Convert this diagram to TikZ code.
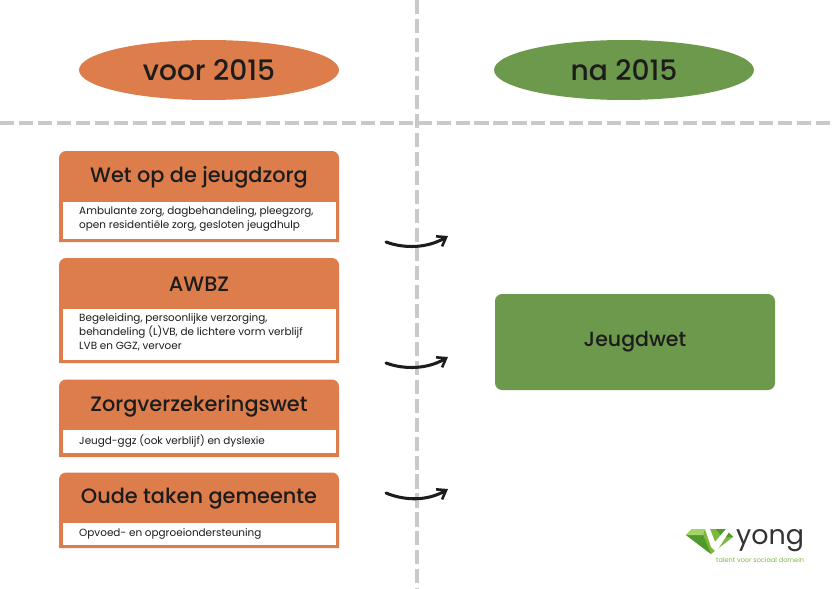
\documentclass[tikz,border=0pt]{standalone}
\usepackage{fontspec}
\setmainfont{Poppins}[UprightFont=* Medium]
\newfontfamily\dunfont{Poppins}
\usetikzlibrary{arrows.meta, shapes.geometric}
\definecolor{oranje}{HTML}{DC7D4B}
\definecolor{groen}{HTML}{6C994B}
\definecolor{streep}{HTML}{C9C9C9}
\definecolor{inkt}{HTML}{1C1C1C}
\definecolor{logogroen}{HTML}{7DB83C}
\definecolor{logodonker}{HTML}{4F9A2A}
\definecolor{logolicht}{HTML}{A5D36A}
\definecolor{logotekst}{HTML}{333333}
\tikzset{
  deellijn/.style={streep, line width=3.4pt, dash pattern=on 12pt off 4.2pt},
  kop/.style={text=inkt, font=\fontsize{17.8}{20}\selectfont},
  ovaal/.style={ellipse, minimum width=260*0.03cm, minimum height=60*0.03cm, inner sep=0pt, text=inkt, font=\fontsize{24}{28}\selectfont},
  uitleg/.style={anchor=north west, inner sep=0pt, align=left, text=inkt, font=\dunfont\fontsize{8.9}{12.1}\selectfont},
  pijl/.style={inkt, line width=2.6pt, line cap=round, -{Straight Barb[length=7pt,width=10pt,line width=2.2pt]}}
}
\begin{document}
\begin{tikzpicture}[x=0.03cm, y=-0.03cm]
\useasboundingbox (0,0) rectangle (834,589);
% dashed cross
\coordinate (boven) at (417,0);
\coordinate (onder) at (417,589);
\coordinate (links) at (0,123);
\coordinate (rechts) at (834,123);
\draw [deellijn] (boven) -- (onder);
\draw [deellijn] (links) -- (rechts);
% headings:
\node [ovaal, fill=oranje] (voor) at (209,70) {voor 2015};
\node [ovaal, fill=groen] (na) at (624,70) {na 2015};
% orange cards, white panel on top
\fill [oranje, rounded corners=6] (59,242) [sharp corners] -- (59,200) [rounded corners=6] -- (59,151) -- (339,151) -- (339,200) [sharp corners] -- (339,242) -- cycle;
\fill [white] (62.5,201.5) rectangle (335.5,238.5);
\node [kop] (wet) at (199,177) {Wet op de jeugdzorg};
\node [uitleg] (wettekst) at (79,206.5) {Ambulante zorg, dagbehandeling, pleegzorg,\\open residentiële zorg, gesloten jeugdhulp};
\fill [oranje, rounded corners=6] (59,363) [sharp corners] -- (59,300) [rounded corners=6] -- (59,258) -- (339,258) -- (339,300) [sharp corners] -- (339,363) -- cycle;
\fill [white] (62.5,309) rectangle (335.5,360);
\node [kop] (awbz) at (199,284) {AWBZ};
\node [uitleg] (awbztekst) at (79,313) {Begeleiding, persoonlijke verzorging,\\behandeling (L)VB, de lichtere vorm verblijf\\LVB en GGZ, vervoer};
\fill [oranje, rounded corners=6] (59,457) [sharp corners] -- (59,420) [rounded corners=6] -- (59,379.5) -- (339,379.5) -- (339,420) [sharp corners] -- (339,457) -- cycle;
\fill [white] (62.5,430) rectangle (335.5,453);
\node [kop] (zvw) at (199,406) {Zorgverzekeringswet};
\node [uitleg] (zvwtekst) at (79,435) {Jeugd-ggz (ook verblijf) en dyslexie};
\fill [oranje, rounded corners=6] (59,548) [sharp corners] -- (59,510) [rounded corners=6] -- (59,472.5) -- (339,472.5) -- (339,510) [sharp corners] -- (339,548) -- cycle;
\fill [white] (62.5,523) rectangle (335.5,544.5);
\node [kop] (taken) at (199,499) {Oude taken gemeente};
\node [uitleg] (takentekst) at (79,528.5) {Opvoed- en opgroeiondersteuning};
% result box
\node [fill=groen, rounded corners=6, minimum width=280*0.03cm, minimum height=96*0.03cm, text=inkt, font=\fontsize{17.5}{20}\selectfont] (jeugdwet) at (635,342) {Jeugdwet};
% curved arrows
\coordinate (a1) at (386,242);
\coordinate (b1) at (448,236);
\coordinate (a2) at (386,363);
\coordinate (b2) at (448,357);
\coordinate (a3) at (386,493);
\coordinate (b3) at (448,489);
\draw [pijl] (a1) .. controls (405,249) and (428,248) .. (b1);
\draw [pijl] (a2) .. controls (405,370) and (428,369) .. (b2);
\draw [pijl] (a3) .. controls (405,501) and (428,501) .. (b3);
% logo
\fill [logogroen] (686,535) -- (692,529) -- (725,529) -- (733,537) -- (711,554) -- cycle;
\fill [logodonker] (686,535) -- (703,535) -- (711,554) -- cycle;
\fill [logolicht] (692,529) -- (705,529) -- (703,535) -- (686,535) -- cycle;
\fill [logodonker] (716,529) -- (725,529) -- (733,537) -- (722,537) -- cycle;
\fill [white] (705,529) -- (710,529) -- (715,542) -- (726,529) -- (729,532) -- (716,552) -- (711,547) -- cycle;
\node [anchor=base west, inner sep=0pt, text=logotekst, font=\dunfont\fontsize{23}{26}\selectfont] (yong) at (736,544) {yong};
\node [anchor=base west, inner sep=0pt, text=logogroen, font=\dunfont\fontsize{5.6}{7}\selectfont] (talent) at (716,562) {talent voor sociaal domein};
\end{tikzpicture}
\end{document}
